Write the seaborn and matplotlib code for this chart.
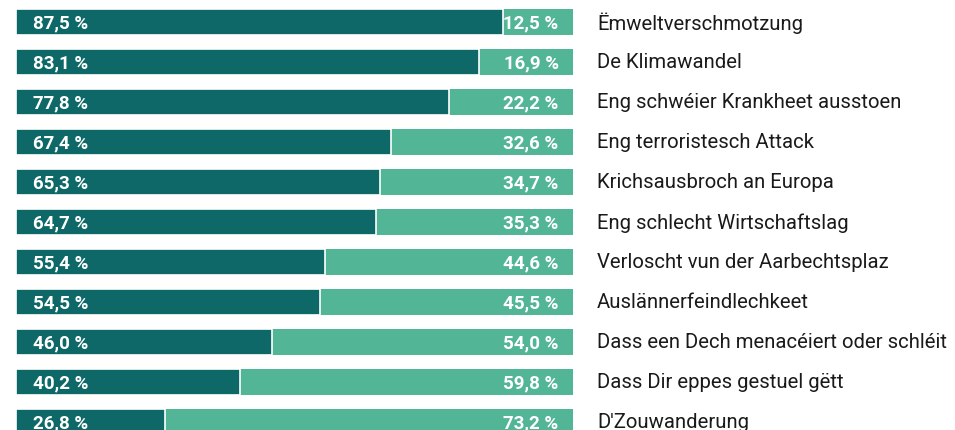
import matplotlib
matplotlib.use("Agg")
import matplotlib.pyplot as plt
import pandas as pd
import seaborn as sns

# categories top to bottom
categories = [
    "Ëmweltverschmotzung",
    "De Klimawandel",
    "Eng schwéier Krankheet ausstoen",
    "Eng terroristesch Attack",
    "Krichsausbroch an Europa",
    "Eng schlecht Wirtschaftslag",
    "Verloscht vun der Aarbechtsplaz",
    "Auslännerfeindlechkeet",
    "Dass een Dech menacéiert oder schléit",
    "Dass Dir eppes gestuel gëtt",
    "D'Zouwanderung",
]
dark_values = [87.5, 83.1, 77.8, 67.4, 65.3, 64.7, 55.4, 54.5, 46.0, 40.2, 26.8]
light_values = [12.5, 16.9, 22.2, 32.6, 34.7, 35.3, 44.6, 45.5, 54.0, 59.8, 73.2]

dark_col = "#0e6868"
light_col = "#52b596"

df = pd.DataFrame({
    "cat": categories,
    "dark": dark_values,
    "light": light_values,
})
df["total"] = df["dark"] + df["light"]

sns.set_style("white")
plt.rcParams["font.family"] = ["Roboto", "DejaVu Sans"]

fig = plt.figure(figsize=(9.55, 4.31), dpi=100)
ax = fig.add_axes([16 / 955, 0, 557 / 955, 1])

sns.barplot(data=df, x="total", y="cat", orient="h", color=light_col,
            width=0.65, saturation=1, ax=ax, linewidth=0)
sns.barplot(data=df, x="dark", y="cat", orient="h", color=dark_col,
            width=0.65, saturation=1, ax=ax, edgecolor="white", linewidth=1.2)

ax.set_xlim(0, 100)
ax.set_ylim(10.2, -0.575)
ax.axis("off")

x_lab = (597 - 16) / 557
for i, row in df.iterrows():
    ax.text(3.0, i, f"{row['dark']:.1f} %".replace(".", ","), color="white",
            fontsize=13.5, fontweight="semibold", va="center", ha="left")
    ax.text(row["total"] - 2.6, i, f"{row['light']:.1f} %".replace(".", ","),
            color="white", fontsize=13.5, fontweight="semibold",
            va="center", ha="right")
    ax.text(x_lab, i, row["cat"], transform=ax.get_yaxis_transform(),
            color="#1a1a1a", fontsize=14.6, va="center", ha="left", clip_on=False)

fig.savefig("out.png", dpi=100)
